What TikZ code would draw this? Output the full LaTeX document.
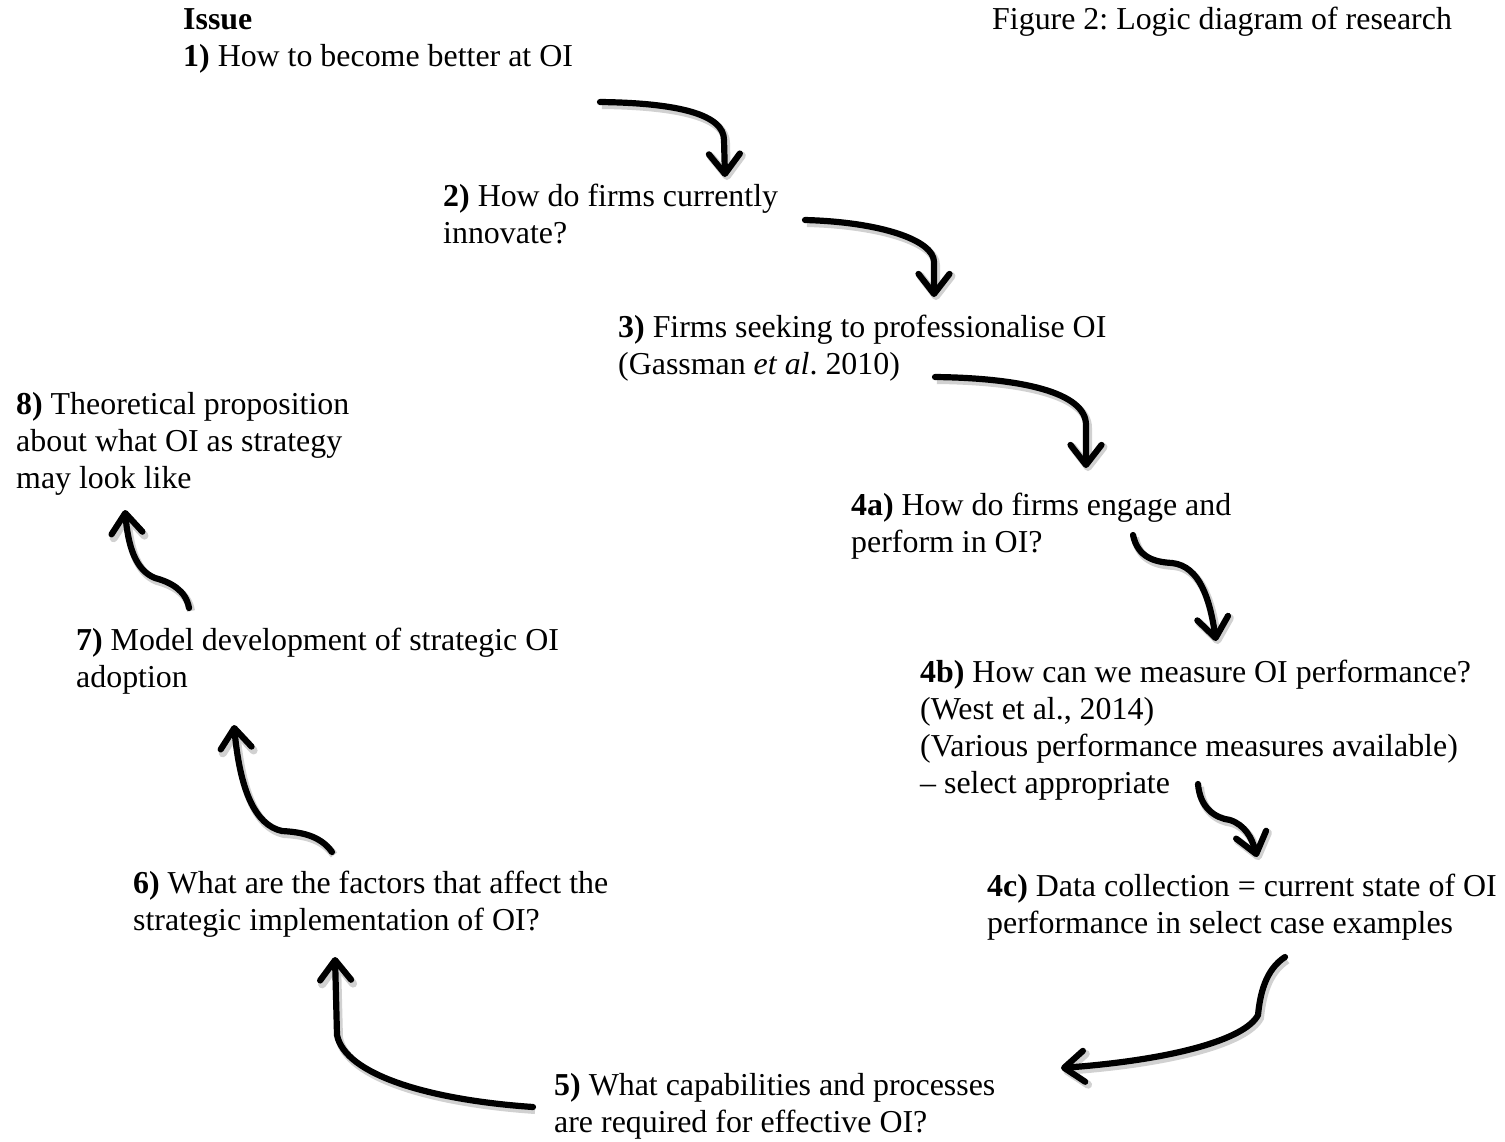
\documentclass[tikz,border=0pt]{standalone}
\usepackage{fontspec}
\setmainfont{Liberation Serif}
\usetikzlibrary{arrows.meta}
\begin{document}
\frenchspacing
\begin{tikzpicture}[x=1pt,y=-1pt,
  txt/.style={anchor=north west, inner sep=0pt, align=left,
    font=\fontsize{31.9}{36.7}\selectfont},
  flow/.style={line width=6.2pt, line cap=round, line join=round,
    -{Straight Barb[length=20pt,width=31pt,round]},
    preaction={draw=black!18, line width=8pt, transform canvas={shift={(2pt,-3pt)}}}}]
\useasboundingbox (0,0) rectangle (1505,1141);

% research steps (top edge = first baseline minus strut height)
\node[txt] (n1) at (183,4) {\strut\textbf{Issue}\\\textbf{1)} How to become better at OI};
\node[txt] (fig) at (992,4) {\strut Figure 2: Logic diagram of research};
\node[txt] (n2) at (443,181) {\strut\textbf{2)} How do firms currently\\innovate?};
\node[txt] (n3) at (618,312) {\strut\textbf{3)} Firms seeking to professionalise OI\\(Gassman \textit{et al}. 2010)};
\node[txt] (n8) at (16,389) {\strut\textbf{8)} Theoretical proposition\\about what OI as strategy\\may look like};
\node[txt] (n4a) at (851,490) {\strut\textbf{4a)} How do firms engage and\\perform in OI?};
\node[txt] (n7) at (76,625) {\strut\textbf{7)} Model development of strategic OI\\adoption};
\node[txt] (n4b) at (920,657) {\strut\textbf{4b)} How can we measure OI performance?\\(West et al., 2014)\\(Various performance measures available)\\– select appropriate};
\node[txt] (n6) at (133,868) {\strut\textbf{6)} What are the factors that affect the\\strategic implementation of OI?};
\node[txt] (n4c) at (987,871) {\strut\textbf{4c)} Data collection = current state of OI\\performance in select case examples};
\node[txt] (n5) at (554,1070) {\strut\textbf{5)} What capabilities and processes\\are required for effective OI?};

% hand-drawn connectors between the steps
\coordinate (a1s) at (600,102);  \coordinate (a1e) at (725,177);
\coordinate (a2s) at (805,220);  \coordinate (a2e) at (934,297);
\coordinate (a3s) at (935,377);  \coordinate (a3e) at (1086,468);
\coordinate (a4s) at (1133,535); \coordinate (a4e) at (1216,641);
\coordinate (a5s) at (1198,784); \coordinate (a5e) at (1257,857);
\coordinate (a6s) at (1285,957); \coordinate (a6e) at (1061,1068);
\coordinate (a7s) at (533,1107); \coordinate (a7e) at (335,957);
\coordinate (a8s) at (332,852);  \coordinate (a8e) at (234,725);
\coordinate (a9s) at (189,608);  \coordinate (a9e) at (125,510);

\draw[flow] (a1s) .. controls (680,103) and (724,115) .. (724,140) -- (a1e);
\draw[flow] (a2s) .. controls (880,222) and (934,240) .. (934,262) -- (a2e);
\draw[flow] (a3s) .. controls (1020,378) and (1086,392) .. (1086,425) -- (a3e);
\draw[flow] (a4s) .. controls (1138,558) and (1155,562) .. (1172,563)
  .. controls (1200,566) and (1210,600) .. (a4e);
\draw[flow] (a5s) .. controls (1200,808) and (1215,818) .. (1230,820)
  .. controls (1245,825) and (1252,838) .. (a5e);
\draw[flow] (a6s) .. controls (1265,970) and (1260,995) .. (1258,1015)
  .. controls (1245,1040) and (1170,1060) .. (a6e);
\draw[flow] (a7s) .. controls (430,1100) and (345,1075) .. (337,1035) -- (a7e);
\draw[flow] (a8s) .. controls (320,835) and (300,832) .. (282,831)
  .. controls (255,825) and (240,790) .. (a8e);
\draw[flow] (a9s) .. controls (186,590) and (170,582) .. (155,578)
  .. controls (135,570) and (128,545) .. (a9e);
\end{tikzpicture}
\end{document}
